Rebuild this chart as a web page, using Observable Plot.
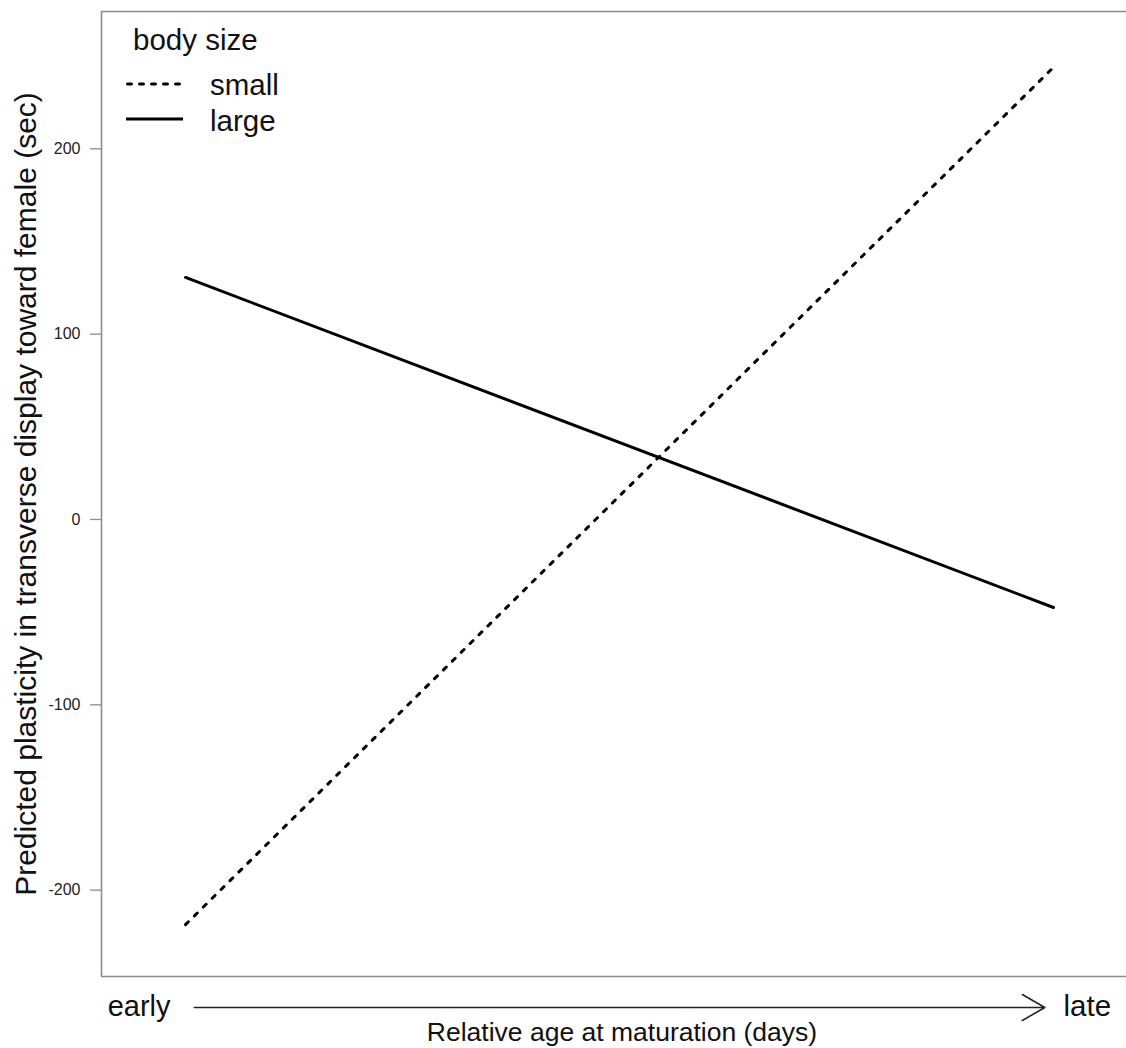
<!DOCTYPE html>
<html><head><meta charset="utf-8">
<script src="https://cdn.jsdelivr.net/npm/d3@7"></script>
<script src="https://cdn.jsdelivr.net/npm/@observablehq/plot@0.6"></script>
<style>
body{margin:0;background:#fff;font-family:"Liberation Sans",Arial,sans-serif}
#wrap{position:relative;width:1126px;height:1048px}
#legend{position:absolute;left:0;top:0}
</style></head><body><div id="wrap"></div>
<script>
// Data
const ageX = [0, 1];                       // relative age at maturation (early -> late)
const smallBody = [-218.6, 244];           // predicted plasticity, small males
const largeBody = [130.6, -47.5];          // predicted plasticity, large males
const seriesNames = ["small", "large"];
const yTicks = [-200, -100, 0, 100, 200];
const xDomain = [-0.0968, 1.0841];
const yDomain = [-246.6, 274.1];
const arrowSpan = [0.01, 0.99];
const endLabels = ["early", "late"];
const yLabel = "Predicted plasticity in transverse display toward female (sec)";
const xLabel = "Relative age at maturation (days)";
const legendTitle = "body size";

const rows = [];
ageX.forEach((x, i) => {
  rows.push({x, y: smallBody[i], size: seriesNames[0]});
  rows.push({x, y: largeBody[i], size: seriesNames[1]});
});

const font = "'Liberation Sans', Arial, sans-serif";
const chart = Plot.plot({
  width: 1126, height: 1048,
  marginLeft: 101, marginRight: 0, marginTop: 11, marginBottom: 72,
  x: {domain: xDomain, axis: null},
  y: {domain: yDomain, axis: null},
  style: {fontFamily: font, background: "white", overflow: "visible"},
  marks: [
    Plot.ruleX([xDomain[0]], {stroke: "#8c8c8c", strokeWidth: 1.6}),
    Plot.ruleY(yDomain, {stroke: "#8c8c8c", strokeWidth: 1.6}),
    Plot.axisY(yTicks, {tickSize: 11, tickPadding: 10, stroke: "#8c8c8c", strokeWidth: 1.3, fill: "#222", fontSize: 16, label: null, tickFormat: d => String(d)}),
    Plot.line(rows.filter(d => d.size === "large"), {x: "x", y: "y", stroke: "black", strokeWidth: 3}),
    Plot.line(rows.filter(d => d.size === "small"), {x: "x", y: "y", stroke: "black", strokeWidth: 3, strokeDasharray: "4,8.5", strokeLinecap: "round"}),
    Plot.text([yLabel], {text: d => d, frameAnchor: "left", rotate: -90, dx: -75, textAnchor: "middle", lineAnchor: "middle", fontSize: 30, fill: "#111"}),
    Plot.text([xLabel], {text: d => d, frameAnchor: "bottom", dx: 8, dy: 64, textAnchor: "middle", lineAnchor: "bottom", fontSize: 26.5, fill: "#111"}),
    Plot.arrow([arrowSpan], {x1: d => d[0], x2: d => d[1], y1: () => yDomain[0], y2: () => yDomain[0], dy: 31, stroke: "#222", strokeWidth: 1.5, headLength: 26, headAngle: 60}),
    Plot.text([endLabels[0]], {text: d => d, x: () => arrowSpan[0], y: () => yDomain[0], dx: -23.7, dy: 39, textAnchor: "end", lineAnchor: "bottom", fontSize: 29, fill: "#111"}),
    Plot.text([endLabels[1]], {text: d => d, x: () => arrowSpan[1], y: () => yDomain[0], dx: 18.7, dy: 39, textAnchor: "start", lineAnchor: "bottom", fontSize: 29.5, fill: "#111"})
  ]
});
document.getElementById("wrap").appendChild(chart);

// Legend (inside the plot frame, top-left)
const ns = "http://www.w3.org/2000/svg";
const lg = document.createElementNS(ns, "svg");
lg.setAttribute("id", "legend");
lg.setAttribute("width", 320);
lg.setAttribute("height", 150);
lg.style.fontFamily = font;
function el(tag, attrs, txt) {
  const e = document.createElementNS(ns, tag);
  for (const k in attrs) e.setAttribute(k, attrs[k]);
  if (txt) e.textContent = txt;
  lg.appendChild(e);
  return e;
}
el("text", {x: 133, y: 50, "font-size": 29.5, fill: "#111"}, legendTitle);
el("line", {x1: 127.5, x2: 181.5, y1: 84, y2: 84, stroke: "black", "stroke-width": 3, "stroke-dasharray": "4,8", "stroke-linecap": "round"});
el("text", {x: 210, y: 95, "font-size": 29.5, fill: "#111"}, seriesNames[0]);
el("line", {x1: 126, x2: 183, y1: 119, y2: 119, stroke: "black", "stroke-width": 3});
el("text", {x: 210, y: 131, "font-size": 29.5, fill: "#111"}, seriesNames[1]);
document.getElementById("wrap").appendChild(lg);
</script></body></html>
